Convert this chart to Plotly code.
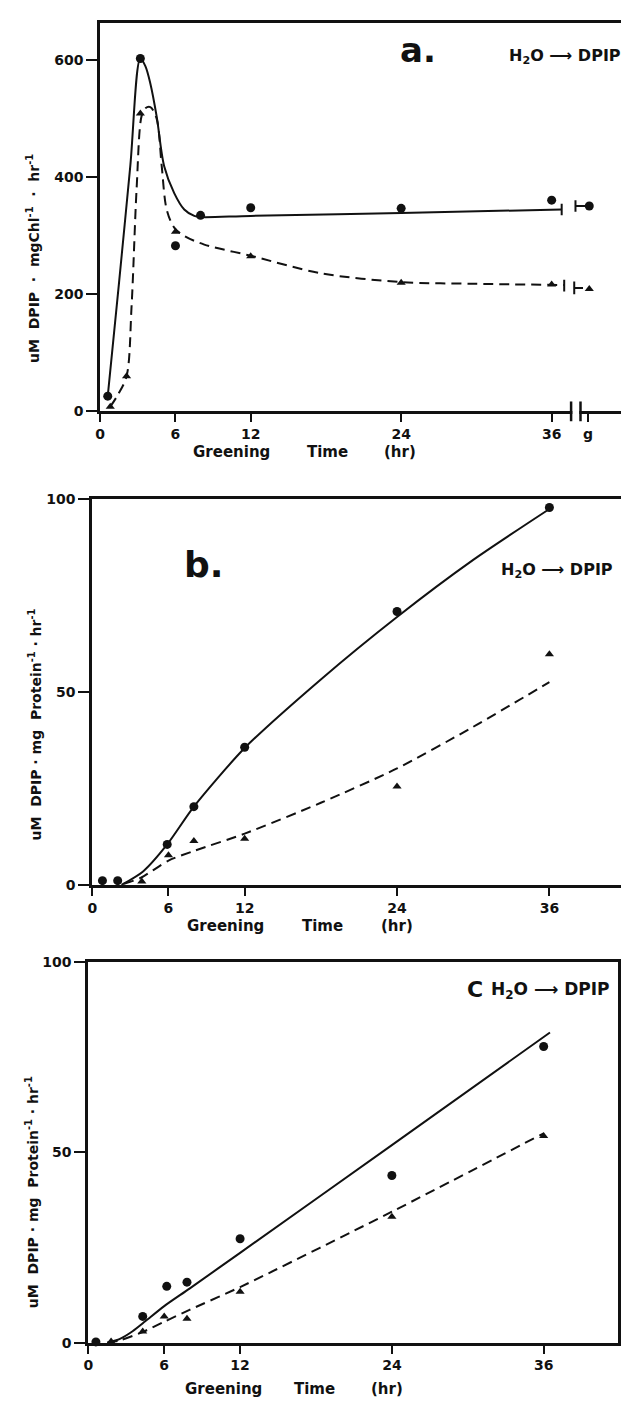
import plotly.graph_objects as go

W, H = 621, 1407
FONT = "DejaVu Sans"
INK = "#111111"

# ---------------- Panel a (per mg Chl) ----------------
a_circ_x = [0.6, 3.2, 6.0, 8.0, 12.0, 24.0, 36.0, 39.0]
a_circ_y = [26, 603, 283, 335, 348, 347, 361, 351]
a_tri_x = [0.8, 2.1, 3.2, 6.0, 12.0, 24.0, 36.0, 39.0]
a_tri_y = [8, 60, 509, 307, 265, 220, 217, 209]
a_solid_x = [0.6, 1.5, 2.4, 3.2, 3.6, 4.0, 4.5, 5.1, 5.9, 6.7, 7.5, 8.0, 12.0, 24.0, 36.8]
a_solid_y = [26, 220, 420, 603, 590, 560, 504, 419, 373, 345, 334, 332, 334, 339, 345]
a_dash_x = [0.8, 1.4, 2.1, 2.5, 2.9, 3.3, 3.6, 4.0, 4.5, 4.9, 5.3, 5.9, 6.7, 8.3, 12.0, 17.6, 24.0, 30.0, 37.0]
a_dash_y = [8, 28, 60, 180, 380, 505, 518, 520, 500, 420, 345, 314, 300, 285, 266, 236, 221, 218, 216]
a_solid_tail_x = [36.8, 36.8, None, 37.9, 37.9, None, 37.9, 39.0]
a_solid_tail_y = [335, 355, None, 341, 361, None, 351, 351]
a_dash_tail_x = [37.0, 37.0, None, 37.8, 37.8, None, 37.8, 38.5]
a_dash_tail_y = [205, 225, None, 200, 222, None, 211, 211]
a_xticks = [0, 6, 12, 24, 36, 38.9]
a_xticktext = ["0", "6", "12", "24", "36", "g"]
a_yticks = [0, 200, 400, 600]
a_break = [37.55, 38.3]

# ---------------- Panel b (per mg protein) ----------------
b_circ_x = [0.8, 2.0, 5.9, 8.0, 12.0, 24.0, 36.0]
b_circ_y = [1.1, 1.1, 10.5, 20.3, 35.7, 70.9, 97.9]
b_tri_x = [3.9, 6.0, 8.0, 12.0, 24.0, 36.0]
b_tri_y = [0.9, 7.7, 11.4, 12.0, 25.5, 59.8]
b_solid_x = [2.3, 4.0, 5.9, 8.0, 12.0, 18.0, 24.0, 30.0, 36.0]
b_solid_y = [0.0, 3.5, 10.5, 20.3, 35.5, 53.3, 69.5, 84.3, 97.5]
b_dash_x = [2.5, 3.8, 6.0, 8.0, 12.0, 18.0, 24.0, 30.0, 36.0]
b_dash_y = [0.3, 1.8, 6.3, 8.8, 13.3, 21.3, 30.2, 41.0, 52.6]

# ---------------- Panel c (per mg protein) ----------------
c_circ_x = [0.6, 4.3, 6.2, 7.8, 12.0, 24.0, 36.0]
c_circ_y = [0.2, 6.9, 14.8, 15.9, 27.3, 43.9, 77.8]
c_tri_x = [1.8, 4.3, 6.0, 7.8, 12.0, 24.0, 36.0]
c_tri_y = [0.3, 2.9, 6.9, 6.3, 13.4, 33.1, 54.3]
c_solid_x = [1.5, 2.5, 3.5, 4.5, 6.0, 8.0, 12.0, 24.0, 36.5]
c_solid_y = [0.0, 1.0, 3.0, 5.6, 9.6, 14.2, 23.6, 51.9, 81.5]
c_dash_x = [1.5, 2.5, 4.3, 6.0, 8.0, 12.0, 24.0, 36.0]
c_dash_y = [0.0, 0.6, 2.8, 5.5, 8.6, 14.6, 34.4, 55.0]

bp_xticks = [0, 6, 12, 24, 36]
bp_yticks = [0, 50, 100]

# pixel layout helpers
def px(x):
    return x / W

def py(y):
    return 1 - y / H

fig = go.Figure()

def add_panel(xa, ya, sx, sy, dx, dy, cx, cy, tx, ty, sm=0.9):
    fig.add_trace(go.Scatter(x=sx, y=sy, mode="lines", line=dict(color=INK, width=2, shape="spline", smoothing=sm),
                             xaxis=xa, yaxis=ya, hoverinfo="skip", showlegend=False))
    fig.add_trace(go.Scatter(x=dx, y=dy, mode="lines", line=dict(color=INK, width=2, dash="10px,6px", shape="spline", smoothing=sm),
                             xaxis=xa, yaxis=ya, hoverinfo="skip", showlegend=False))
    fig.add_trace(go.Scatter(x=cx, y=cy, mode="markers", marker=dict(symbol="circle", size=9, color=INK),
                             xaxis=xa, yaxis=ya, cliponaxis=False, showlegend=False))
    fig.add_trace(go.Scatter(x=tx, y=ty, mode="markers", marker=dict(symbol="triangle-up", size=8, color=INK),
                             xaxis=xa, yaxis=ya, cliponaxis=False, showlegend=False))

add_panel("x", "y", a_solid_x, a_solid_y, a_dash_x, a_dash_y, a_circ_x, a_circ_y, a_tri_x, a_tri_y)
fig.add_trace(go.Scatter(x=a_solid_tail_x, y=a_solid_tail_y, mode="lines", line=dict(color=INK, width=2),
                         xaxis="x", yaxis="y", showlegend=False, hoverinfo="skip"))
fig.add_trace(go.Scatter(x=a_dash_tail_x, y=a_dash_tail_y, mode="lines", line=dict(color=INK, width=2),
                         xaxis="x", yaxis="y", showlegend=False, hoverinfo="skip"))
add_panel("x2", "y2", b_solid_x, b_solid_y, b_dash_x, b_dash_y, b_circ_x, b_circ_y, b_tri_x, b_tri_y, 0.7)
add_panel("x3", "y3", c_solid_x, c_solid_y, c_dash_x, c_dash_y, c_circ_x, c_circ_y, c_tri_x, c_tri_y, 0.7)

tickfont = dict(family=FONT, size=14, color=INK, weight="bold")

def xaxis(domain, rng, anchor, tickvals, ticktext=None):
    return dict(domain=domain, range=rng, anchor=anchor, showgrid=False, zeroline=False,
                showline=True, linecolor=INK, linewidth=3, mirror=True,
                ticks="outside", ticklen=8, tickwidth=2, tickcolor=INK,
                tickvals=tickvals, ticktext=ticktext if ticktext else [str(v) for v in tickvals],
                tickfont=tickfont, fixedrange=True)

def yaxis(domain, rng, anchor, tickvals, mirror):
    return dict(domain=domain, range=rng, anchor=anchor, showgrid=False, zeroline=False,
                showline=True, linecolor=INK, linewidth=3, mirror=mirror,
                ticks="outside", ticklen=11, tickwidth=2, tickcolor=INK,
                tickvals=tickvals, ticktext=[str(v) for v in tickvals],
                tickfont=tickfont, fixedrange=True)

fig.update_layout(
    width=W, height=H, margin=dict(l=0, r=0, t=0, b=0),
    paper_bgcolor="white", plot_bgcolor="white", showlegend=False,
    font=dict(family=FONT, size=14, color=INK),
    xaxis=xaxis([px(96), 1.0], [0, 41.53], "y", a_xticks, a_xticktext),
    yaxis=yaxis([py(408), py(15)], [0, 664], "x", a_yticks, False),
    xaxis2=xaxis([px(88), 1.0], [0, 41.64], "y2", bp_xticks),
    yaxis2=yaxis([py(887), py(497)], [0, 100], "x2", bp_yticks, False),
    xaxis3=xaxis([px(84), px(618)], [0, 41.88], "y3", bp_xticks),
    yaxis3=yaxis([py(1350), py(965)], [0, 100], "x3", bp_yticks, True),
)

# axis break on panel a
shapes = [
    dict(type="rect", xref="x", yref="paper", x0=a_break[0] + 0.1, x1=a_break[1] - 0.1,
         y0=py(412), y1=py(404), fillcolor="white", line=dict(width=0), layer="above"),
]
for bx in a_break:
    shapes.append(dict(type="line", xref="x", yref="paper", x0=bx, x1=bx, y0=py(398), y1=py(418),
                       line=dict(color=INK, width=2.5), layer="above"))
fig.update_layout(shapes=shapes)

ann = []
def label(text, x, y, size, xanchor="left", angle=0):
    ann.append(dict(text="<b>" + text + "</b>", x=px(x), y=py(y), xref="paper", yref="paper", showarrow=False,
                    xanchor=xanchor, yanchor="middle", textangle=angle,
                    font=dict(family=FONT, size=size, color=INK)))

arrow = "H<sub>2</sub>O \u27f6 DPIP"
sp2 = "\u00a0\u00a0"
# panel a
label("a.", 396, 42, 34)
label(arrow, 506, 49, 16)
label("uM" + sp2 + "DPIP" + sp2 + "\u00b7" + sp2 + "mgChl<sup>-1</sup>" + sp2 + "\u00b7" + sp2 + "hr<sup>-1</sup>", 28, 253, 14, "center", -90)
label("Greening", 228, 449, 15, "center")
label("Time", 325, 449, 15, "center")
label("(hr)", 398, 449, 15, "center")
# panel b
label("b.", 178, 563, 36)
label(arrow, 498, 569, 16)
label("uM" + sp2 + "DPIP\u00a0\u00b7\u00a0mg" + sp2 + "Protein<sup>-1</sup>\u00a0\u00b7\u00a0hr<sup>-1</sup>", 30, 725, 14, "center", -90)
label("Greening", 222, 929, 15, "center")
label("Time", 320, 929, 15, "center")
label("(hr)", 395, 929, 15, "center")
# panel c
label("C", 464, 993, 22)
label(arrow, 488, 994, 17)
label("uM" + sp2 + "DPIP\u00a0\u00b7\u00a0mg" + sp2 + "Protein<sup>-1</sup>\u00a0\u00b7\u00a0hr<sup>-1</sup>", 28, 1198, 14, "center", -90)
label("Greening", 220, 1397, 15, "center")
label("Time", 312, 1397, 15, "center")
label("(hr)", 385, 1397, 15, "center")
fig.update_layout(annotations=ann)

fig.write_html("out.html")
